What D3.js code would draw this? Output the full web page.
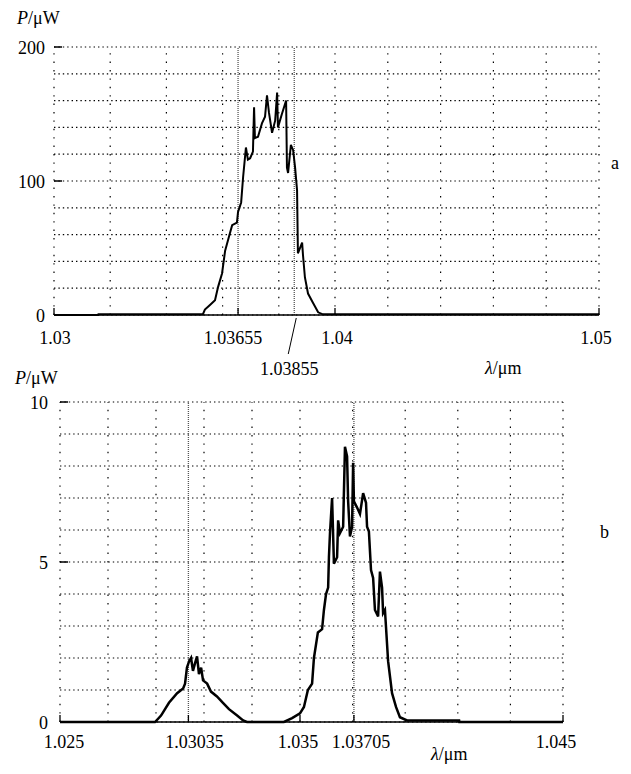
<!DOCTYPE html>
<html>
<head>
<meta charset="utf-8">
<script src="https://cdn.jsdelivr.net/npm/d3@7"></script>
<style>
body { margin: 0; background: #fff; }
</style>
</head>
<body>
<svg width="631" height="774"></svg>
<script>
// panel a
var topWave = [1.03000, 1.03157, 1.03158, 1.03530, 1.03537, 1.03555, 1.03573, 1.03584, 1.03598, 1.03609,
  1.03626, 1.03634, 1.03651, 1.03655, 1.03666, 1.03673, 1.03683, 1.03690, 1.03698, 1.03708,
  1.03712, 1.03715, 1.03726, 1.03740, 1.03751, 1.03758, 1.03765, 1.03776, 1.03787, 1.03794,
  1.03797, 1.03811, 1.03826, 1.03829, 1.03833, 1.03843, 1.03851, 1.03858, 1.03865, 1.03868,
  1.03883, 1.03886, 1.03893, 1.03904, 1.03922, 1.03940, 1.03957, 1.05000];
var topPower = [0, 0, 0.6, 0.6, 4, 7.5, 11, 21, 31, 48,
  61, 67, 69, 77, 84, 103, 125, 116, 117, 122,
  155, 132, 133, 143, 148, 164, 151, 136, 145, 166,
  140, 150, 160, 110, 106, 127, 123, 110, 93, 46,
  54, 45, 28, 16, 9, 2, 0.5, 0.5];

// panel b
var botWave = [1.02500, 1.02896, 1.02921, 1.02954, 1.02988, 1.03013, 1.03021, 1.03029, 1.03038, 1.03046,
  1.03054, 1.03063, 1.03071, 1.03079, 1.03088, 1.03096, 1.03113, 1.03129, 1.03154, 1.03179,
  1.03204, 1.03238, 1.03263, 1.03279, 1.03433, 1.03467, 1.03500, 1.03515, 1.03530, 1.03546,
  1.03553, 1.03568, 1.03584, 1.03591, 1.03599, 1.03607, 1.03610, 1.03614, 1.03622, 1.03629,
  1.03641, 1.03645, 1.03652, 1.03664, 1.03671, 1.03679, 1.03683, 1.03690, 1.03698, 1.03702,
  1.03705, 1.03717, 1.03728, 1.03740, 1.03751, 1.03755, 1.03762, 1.03770, 1.03778, 1.03785,
  1.03797, 1.03804, 1.03812, 1.03816, 1.03823, 1.03835, 1.03850, 1.03865, 1.03880, 1.03907,
  1.04105, 1.04106, 1.04500];
var botPower = [0, 0, 0.2, 0.6, 0.9, 1.05, 1.2, 1.7, 1.9, 2.0,
  1.6, 1.85, 2.05, 1.5, 1.7, 1.3, 1.2, 0.95, 0.8, 0.6,
  0.4, 0.2, 0.05, 0, 0, 0.12, 0.27, 0.47, 1.0, 1.2,
  2.0, 2.8, 2.9, 3.5, 4.0, 4.2, 5.15, 5.9, 7.0, 4.95,
  5.15, 6.3, 5.9, 6.1, 8.6, 8.3, 6.9, 5.8, 6.1, 8.1,
  6.9, 6.7, 6.5, 7.15, 6.85, 6.1, 5.95, 4.75, 4.5, 3.5,
  3.3, 4.7, 4.2, 3.4, 3.5, 1.9, 0.9, 0.47, 0.15, 0.05,
  0.05, 0, 0];

var topXTicks = ["1.03", "1.03655", "1.04", "1.05"];
var topMarked = [1.03655, 1.03855];
var topYTicks = [0, 100, 200];
var botXTicks = ["1.025", "1.03035", "1.035", "1.03705", "1.045"];
var botMarked = [1.03035, 1.03705];
var botYTicks = [0, 5, 10];

var svg = d3.select("svg");
var FONT = "'Liberation Serif', 'DejaVu Serif', serif";

function label(sel) {
  return sel.attr("font-family", FONT).attr("font-size", 18).attr("fill", "#000");
}

function drawPanel(cfg) {
  var g = svg.append("g");
  var x = d3.scaleLinear().domain(cfg.xDomain).range(cfg.xRange);
  var y = d3.scaleLinear().domain(cfg.yDomain).range(cfg.yRange);
  var x0 = cfg.xRange[0], x1 = cfg.xRange[cfg.xRange.length - 1];
  var yb = cfg.yRange[0], yt = cfg.yRange[1];

  // dotted grid
  g.append("g").selectAll("line")
    .data(y.ticks(10))
    .enter().append("line")
    .attr("x1", x0).attr("x2", x1)
    .attr("y1", d => y(d)).attr("y2", d => y(d))
    .attr("stroke", "#000").attr("stroke-width", 1.2)
    .attr("stroke-dasharray", "1.4,3");

  var vgrid = d3.range(0, 11).map(i => cfg.xDomain[0] + i * cfg.gridStep);
  g.append("g").selectAll("line")
    .data(vgrid)
    .enter().append("line")
    .attr("x1", d => x(d)).attr("x2", d => x(d))
    .attr("y1", yb).attr("y2", yt)
    .attr("stroke", "#000").attr("stroke-width", 1.2)
    .attr("stroke-dasharray", "1.4,7");

  // dense marker lines
  g.append("g").selectAll("line")
    .data(cfg.marked)
    .enter().append("line")
    .attr("x1", d => x(d)).attr("x2", d => x(d))
    .attr("y1", yb).attr("y2", yt)
    .attr("stroke", "#555").attr("stroke-width", 1.3)
    .attr("stroke-dasharray", "1,1");

  // axis line and ticks
  g.append("line")
    .attr("x1", x0).attr("x2", x1).attr("y1", yb).attr("y2", yb)
    .attr("stroke", "#000").attr("stroke-width", 1.5);

  g.append("g").selectAll("line")
    .data(cfg.yTicks)
    .enter().append("line")
    .attr("x1", x0).attr("x2", x0 + 8)
    .attr("y1", d => y(d)).attr("y2", d => y(d))
    .attr("stroke", "#000").attr("stroke-width", 1.5);

  g.append("g").selectAll("line")
    .data(cfg.xTicks)
    .enter().append("line")
    .attr("x1", d => x(+d)).attr("x2", d => x(+d))
    .attr("y1", yb).attr("y2", yb - 7)
    .attr("stroke", "#000").attr("stroke-width", 1.3);

  // spectrum
  var line = d3.line()
    .x(d => x(d[0]))
    .y(d => y(d[1]));
  g.append("path")
    .datum(d3.zip(cfg.wave, cfg.power))
    .attr("d", line)
    .attr("fill", "none")
    .attr("stroke", "#000")
    .attr("stroke-width", cfg.lineWidth)
    .attr("stroke-linejoin", "miter");

  // labels
  g.append("g").selectAll("text")
    .data(cfg.yTicks)
    .enter().append("text")
    .call(label)
    .attr("x", cfg.yLabelX).attr("y", d => y(d) + 7)
    .attr("text-anchor", "end")
    .text(d => d);

  g.append("g").selectAll("text")
    .data(cfg.xTicks)
    .enter().append("text")
    .call(label)
    .attr("x", (d, i) => x(+d) + cfg.xLabelDx[i])
    .attr("y", cfg.xLabelY)
    .attr("text-anchor", "middle")
    .text(d => d);

  var yl = g.append("text").call(label).attr("x", cfg.pLabel[0]).attr("y", cfg.pLabel[1]);
  yl.append("tspan").attr("font-style", "italic").text("P");
  yl.append("tspan").text("/\u03bcW");

  var xl = g.append("text").call(label).attr("x", cfg.lLabel[0]).attr("y", cfg.lLabel[1]);
  xl.append("tspan").attr("font-style", "italic").text("\u03bb");
  xl.append("tspan").text("/\u03bcm");

  g.append("text").call(label).attr("x", cfg.tag[0]).attr("y", cfg.tag[1]).text(cfg.tagText);

  return { x: x, y: y, g: g };
}

var a = drawPanel({
  wave: topWave, power: topPower,
  xDomain: [1.03, 1.04, 1.05], xRange: [54, 335, 599], gridStep: 0.002,
  yDomain: [0, 200], yRange: [315, 47],
  marked: topMarked, xTicks: topXTicks, xLabelDx: [1, -5, 2, -3], xLabelY: 344,
  yTicks: topYTicks, yLabelX: 45,
  pLabel: [17, 24], lLabel: [485, 374], tag: [611, 169], tagText: "a",
  lineWidth: 2
});

// leader for 1.03855
var xm = a.x(1.03855);
a.g.append("line")
  .attr("x1", xm + 2).attr("y1", 318).attr("x2", xm - 6).attr("y2", 354)
  .attr("stroke", "#000").attr("stroke-width", 1);
a.g.append("text").call(label).attr("x", xm - 5).attr("y", 375)
  .attr("text-anchor", "middle").text("1.03855");

drawPanel({
  wave: botWave, power: botPower,
  xDomain: [1.025, 1.035, 1.045], xRange: [60, 300, 563], gridStep: 0.002,
  yDomain: [0, 10], yRange: [722, 402],
  marked: botMarked, xTicks: botXTicks, xLabelDx: [4, 6, -2, 7, -7], xLabelY: 748,
  yTicks: botYTicks, yLabelX: 48,
  pLabel: [15, 384], lLabel: [431, 760], tag: [600, 538], tagText: "b",
  lineWidth: 2.5
});
</script>
</body>
</html>
